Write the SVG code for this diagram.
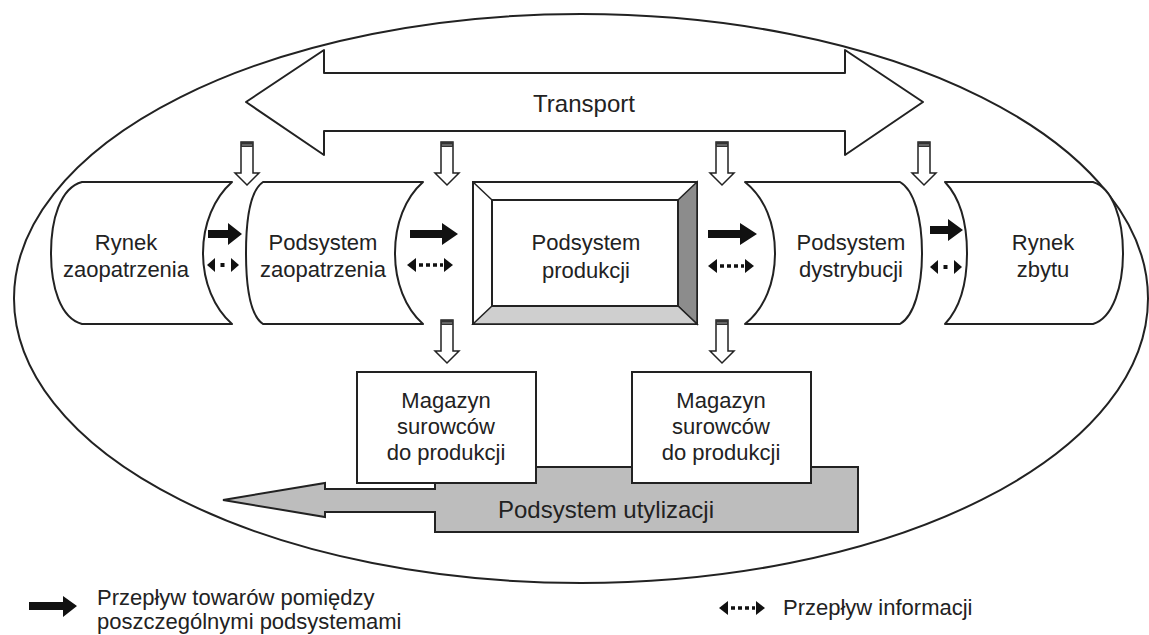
<svg xmlns="http://www.w3.org/2000/svg" xmlns:xlink="http://www.w3.org/1999/xlink" width="1149" height="635" viewBox="0 0 1149 635">
<style>
.ln{fill:#fff;stroke:#222;stroke-width:2;stroke-linejoin:round}
.t{font-family:"Liberation Sans",Arial,sans-serif;font-size:22px;fill:#222;text-anchor:middle}
.tl{font-family:"Liberation Sans",Arial,sans-serif;font-size:22px;fill:#222}
.solid{fill:#111}
</style>
<defs>
<g id="dn">
<path d="M-6,0 L6,0 L6,31 L12,31 L0,43 L-12,31 L-6,31 Z" fill="#fff" stroke="#222" stroke-width="1.5" stroke-linejoin="miter"/>
<rect x="-6" y="0" width="12" height="5" fill="#333"/>
<line x1="-5" y1="3" x2="5" y2="3" stroke="#999" stroke-width="1"/>
</g>
<g id="dashBig">
<polygon points="0,0 9,-7 9,7" fill="#111"/>
<line x1="12" y1="0" x2="36" y2="0" stroke="#111" stroke-width="3.5" stroke-dasharray="4,3"/>
<polygon points="46,0 37,-7 37,7" fill="#111"/>
</g>
<g id="dashSmall">
<polygon points="0,0 8,-7 8,7" fill="#111"/>
<rect x="13.5" y="-2" width="4" height="4" fill="#111"/>
<polygon points="32,0 24,-7 24,7" fill="#111"/>
</g>
</defs>

<rect width="1149" height="635" fill="#fff"/>

<ellipse cx="581" cy="298.5" rx="567" ry="284.5" fill="none" stroke="#222" stroke-width="2"/>

<g id="transport">
<polygon class="ln" points="246,102 324,50 324,73 845,73 845,50 923,102 845,155 845,131 324,131 324,155"/>
<text class="t" x="584" y="112" style="font-size:24px">Transport</text>
</g>

<g id="utylizacja">
<polygon points="223,500 325,483 325,489 435,489 435,467 858,467 858,532 435,532 435,512 325,512 325,517" fill="#bdbdbd" stroke="#222" stroke-width="2" stroke-linejoin="miter"/>
<text class="t" x="606" y="518" style="font-size:24px">Podsystem utylizacji</text>
</g>

<g id="rynek-zaopatrzenia">
<path class="ln" d="M82,182 L232,182 C214,198 203,224 203,253 C203,282 214,308 232,324 L82,324 C60,318 51,286 51,253 C51,220 60,188 82,182 Z"/>
<text class="t" x="126" y="250">Rynek</text>
<text class="t" x="126" y="277">zaopatrzenia</text>
</g>

<g id="podsystem-zaopatrzenia">
<path class="ln" d="M263,182 L423,182 C405,198 395,224 395,253 C395,282 405,308 423,324 L263,324 C251,316 246,288 246,253 C246,218 251,190 263,182 Z"/>
<text class="t" x="323" y="250">Podsystem</text>
<text class="t" x="323" y="277">zaopatrzenia</text>
</g>

<g id="podsystem-produkcji">
<rect x="473" y="182" width="224" height="142" fill="#fff" stroke="#222" stroke-width="2"/>
<polygon points="678,200 697,182 697,324 678,306" fill="#8c8c8c" stroke="#222" stroke-width="1.5"/>
<polygon points="492,306 678,306 697,324 473,324" fill="#cfcfcf" stroke="#222" stroke-width="1.5"/>
<line x1="473" y1="182" x2="492" y2="200" stroke="#222" stroke-width="1.5"/>
<rect x="492" y="200" width="186" height="106" fill="#fff" stroke="#222" stroke-width="2"/>
<text class="t" x="586" y="250">Podsystem</text>
<text class="t" x="586" y="278">produkcji</text>
</g>

<g id="podsystem-dystrybucji">
<path class="ln" d="M745,182 L900,182 C914,190 922,218 922,253 C922,288 914,316 900,324 L745,324 C765,308 775,282 775,253 C775,224 765,198 745,182 Z"/>
<text class="t" x="851" y="250">Podsystem</text>
<text class="t" x="851" y="277">dystrybucji</text>
</g>

<g id="rynek-zbytu">
<path class="ln" d="M945,182 L1093,182 C1113,188 1123,220 1123,253 C1123,286 1113,318 1093,324 L945,324 C960,308 967,282 967,253 C967,224 960,198 945,182 Z"/>
<text class="t" x="1043" y="250">Rynek</text>
<text class="t" x="1043" y="277">zbytu</text>
</g>

<g id="magazyn-1">
<rect x="357" y="372" width="179" height="111" fill="#fff" stroke="#222" stroke-width="2"/>
<text class="t" x="446" y="408">Magazyn</text>
<text class="t" x="446" y="434">surowców</text>
<text class="t" x="446" y="460">do produkcji</text>
</g>

<g id="magazyn-2">
<rect x="632" y="372" width="179" height="111" fill="#fff" stroke="#222" stroke-width="2"/>
<text class="t" x="721" y="408">Magazyn</text>
<text class="t" x="721" y="434">surowców</text>
<text class="t" x="721" y="460">do produkcji</text>
</g>

<g id="connectors">
<use xlink:href="#dn" x="247" y="142"/>
<use xlink:href="#dn" x="447" y="142"/>
<use xlink:href="#dn" x="722" y="142"/>
<use xlink:href="#dn" x="924" y="142"/>
<use xlink:href="#dn" x="447" y="320"/>
<use xlink:href="#dn" x="722" y="320"/>

<path class="solid" d="M208,230 L228,230 L228,223 L242,234 L228,245 L228,238 L208,238 Z"/>
<path class="solid" d="M410,230 L442,230 L442,223 L458,234 L442,245 L442,238 L410,238 Z"/>
<path class="solid" d="M708,230 L740,230 L740,223 L757,234 L740,245 L740,238 L708,238 Z"/>
<path class="solid" d="M930,226 L948,226 L948,219 L963,230 L948,241 L948,234 L930,234 Z"/>

<use xlink:href="#dashSmall" x="207" y="265"/>
<use xlink:href="#dashBig" x="407" y="265"/>
<use xlink:href="#dashBig" x="708" y="266"/>
<use xlink:href="#dashSmall" x="930" y="267"/>
</g>

<g id="legend">
<path class="solid" d="M29,602 L63,602 L63,596 L77,606 L63,617 L63,610 L29,610 Z"/>
<text class="tl" x="97" y="605">Przepływ towarów pomiędzy</text>
<text class="tl" x="97" y="629">poszczególnymi podsystemami</text>
<use xlink:href="#dashBig" x="719" y="608"/>
<text class="tl" x="783" y="615">Przepływ informacji</text>
</g>
</svg>
